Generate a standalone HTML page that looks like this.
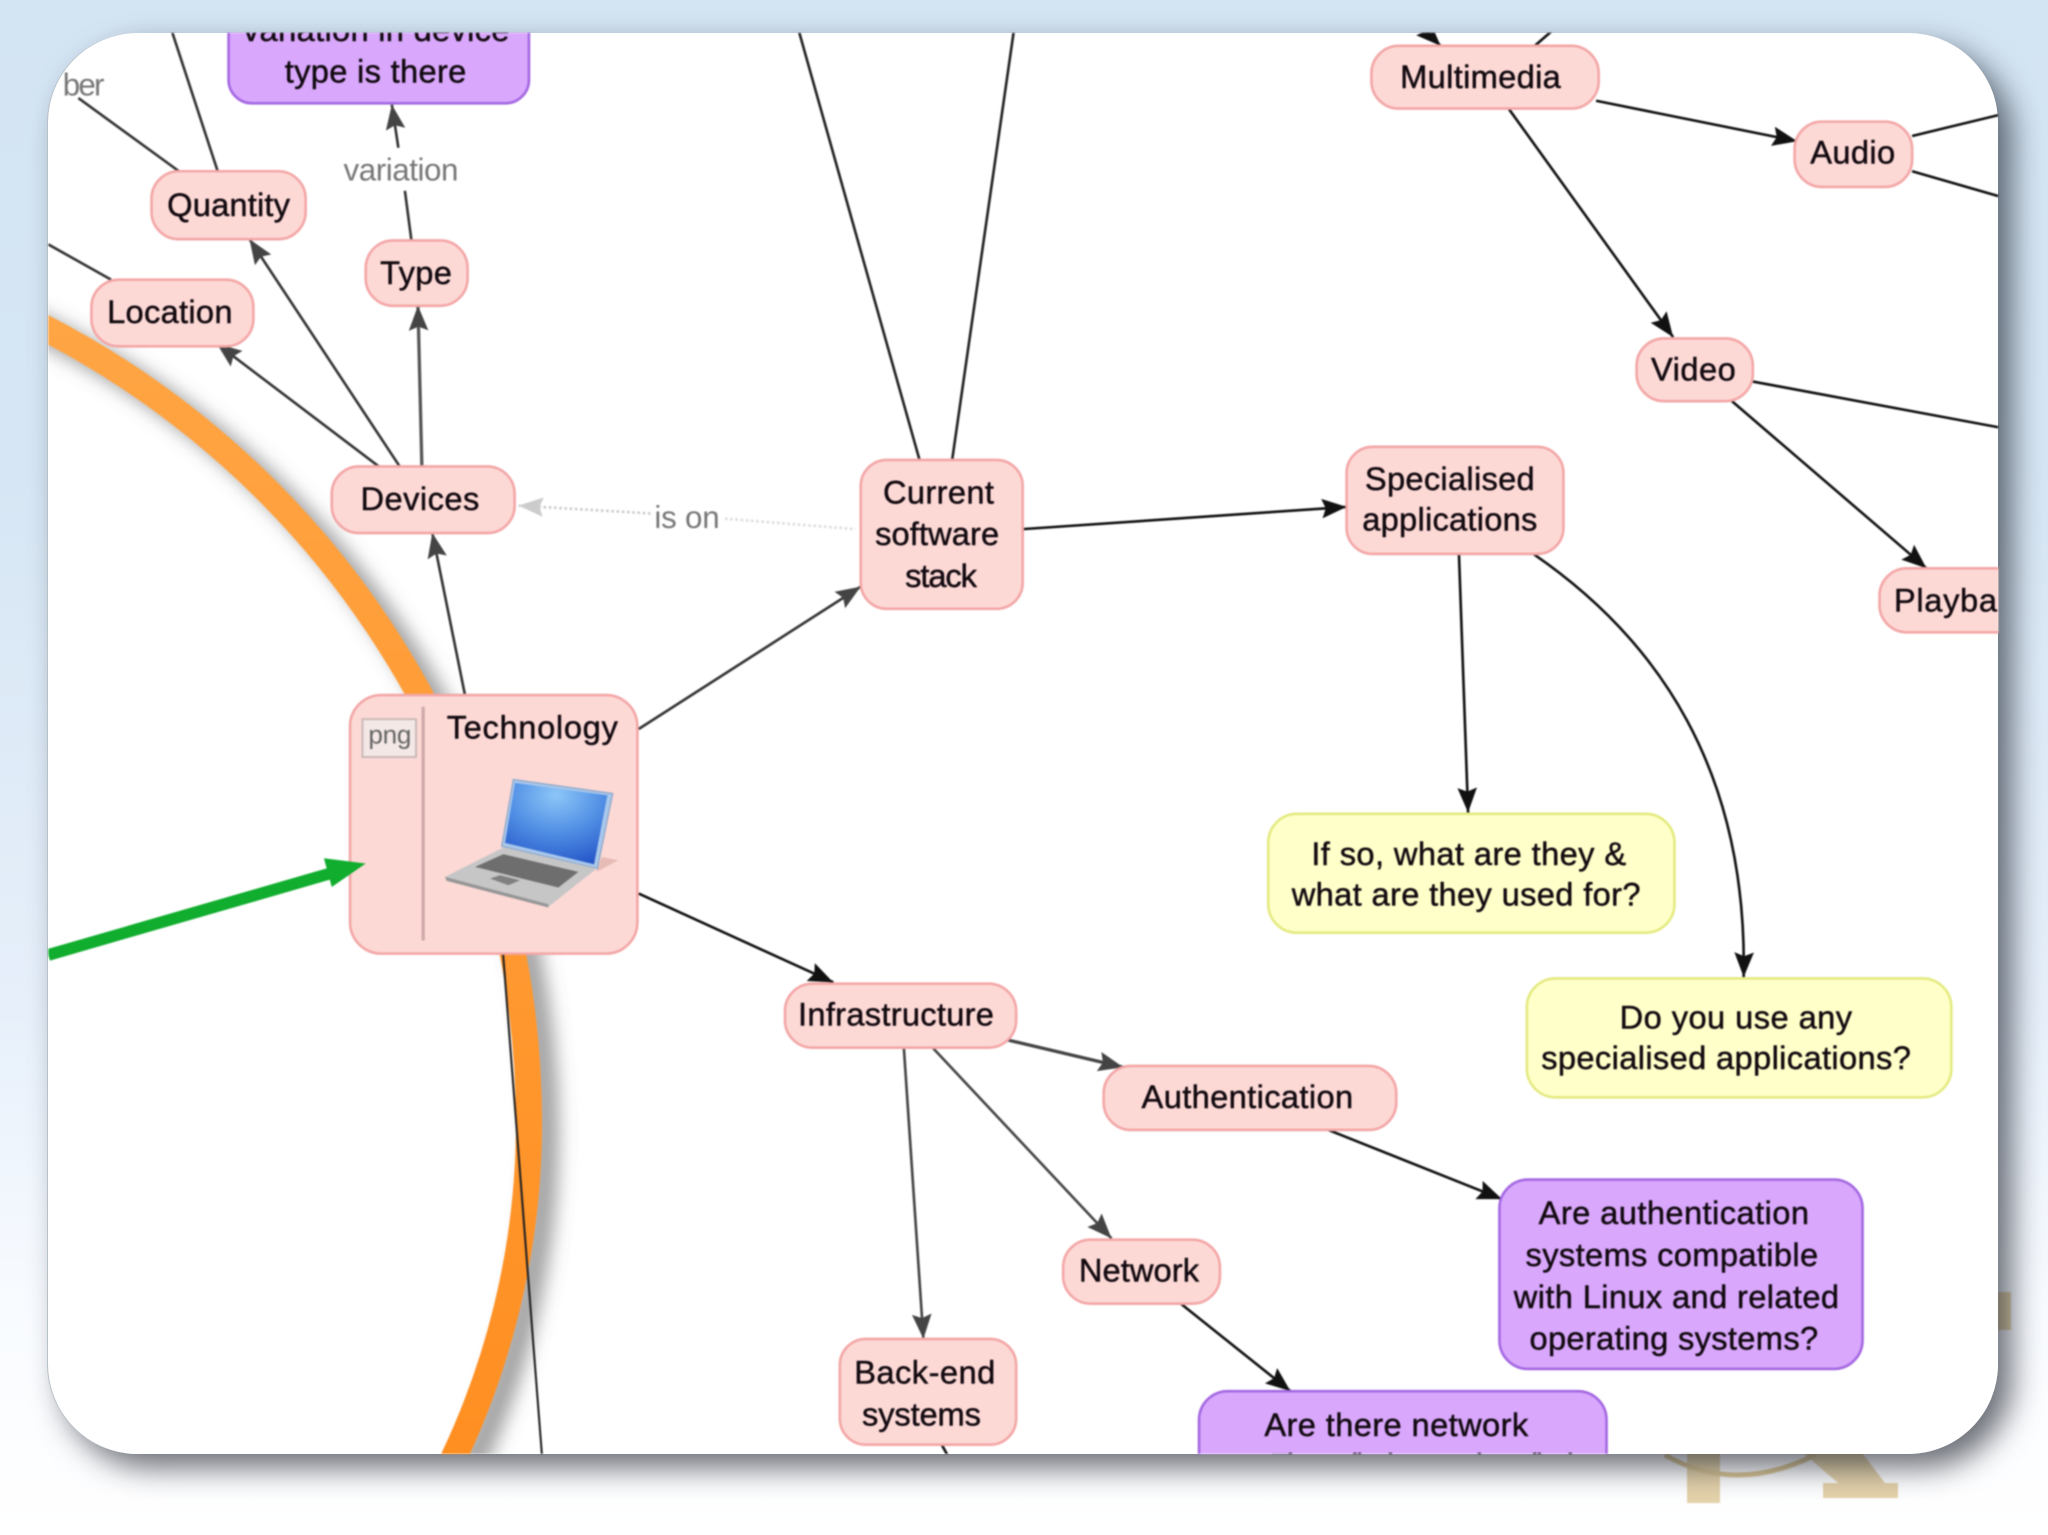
<!DOCTYPE html>
<html><head><meta charset="utf-8"><style>
html,body{margin:0;padding:0;width:2048px;height:1535px;overflow:hidden}
body{position:relative;background:linear-gradient(180deg,#d3e4f3 0%,#d6e6f4 30%,#e6effa 65%,#f8fbff 85%,#ffffff 100%)}
div,svg.l{position:absolute}
#sh{left:48px;top:33px;width:1950px;height:1421px;border-radius:90px;box-shadow:14px 14px 30px rgba(20,25,35,.62)}
#p{left:48px;top:33px;width:1950px;height:1421px;border-radius:90px;background:#fff;box-shadow:-1px 0 0 #b8c0c8}
text{font-family:"Liberation Sans",Arial,sans-serif;font-size:25px;fill:#120a10}
.t text{stroke:#120a10;stroke-width:.35px}
.t text.g{fill:#777;font-size:24px;stroke:none}
</style></head><body>
<svg class="l" style="left:0;top:0;filter:blur(.8px)" width="2048" height="1535" viewBox="0 0 2048 1535">
<g fill="#e4d2aa">
<rect x="1687" y="1450" width="33" height="53"/>
<polygon points="1800,1450 1860,1450 1885,1483 1898,1483 1898,1498 1823,1498 1823,1483 1838,1483"/>
<rect x="1998" y="1292" width="13" height="38"/>
</g>
<path d="M1665,1455 Q1735,1495 1815,1455" fill="none" stroke="#dcc898" stroke-width="5"/>
</svg>
<div id="sh"></div>
<div id="p"></div>
<svg class="l" style="left:0;top:0;filter:blur(.7px)" width="2048" height="1535" viewBox="0 0 1568 1175">
<defs>
<clipPath id="c"><rect x="37" y="25" width="1493" height="1088" rx="69"/></clipPath>
<marker id="d" markerUnits="userSpaceOnUse" markerWidth="20" markerHeight="16" refX="19" refY="8" orient="auto"><path d="M0,0.5L19,8L0,15.500L3,8Z" fill="#111"/></marker>
<marker id="m" markerUnits="userSpaceOnUse" markerWidth="20" markerHeight="16" refX="19" refY="8" orient="auto"><path d="M0,0.5L19,8L0,15.500L3,8Z" fill="#444"/></marker>
<marker id="l" markerUnits="userSpaceOnUse" markerWidth="20" markerHeight="16" refX="19" refY="8" orient="auto"><path d="M0,0.5L19,8L0,15.500L3,8Z" fill="#ccc"/></marker>
<filter id="b" x="-20%" y="-20%" width="140%" height="140%"><feGaussianBlur stdDeviation="7"/></filter>
<linearGradient id="o" x1="0" y1="0" x2="0" y2="1"><stop offset="0" stop-color="#ffa544"/><stop offset="1" stop-color="#ff8e20"/></linearGradient>
<radialGradient id="s" cx=".5" cy=".15" r=".95"><stop offset="0" stop-color="#8cc6f7"/><stop offset=".5" stop-color="#4f8de4"/><stop offset="1" stop-color="#1f4fc4"/></radialGradient>
</defs>
<g clip-path="url(#c)">
<path d="M-20,226 A685,685 0 0 1 405,860 A600,600 0 0 1 338,1135" transform="translate(12,8)" fill="none" stroke="#666" stroke-opacity=".6" stroke-width="22" filter="url(#b)"/>
<path d="M-20,226 A685,685 0 0 1 405,860 A600,600 0 0 1 338,1135" fill="none" stroke="url(#o)" stroke-width="20"/>

<g fill="none" stroke="#333" stroke-width="2">
<line x1="132" y1="25" x2="167" y2="132"/>
<line x1="60" y1="75" x2="137" y2="131"/>
<line x1="37" y1="187" x2="85" y2="214"/>
<line x1="290" y1="357" x2="166" y2="263" marker-end="url(#m)"/>
<line x1="306" y1="357" x2="191" y2="183" marker-end="url(#m)"/>
<line x1="323" y1="357" x2="320" y2="234" stroke="#555" stroke-width="2.5" marker-end="url(#m)"/>
<line x1="315" y1="184" x2="310" y2="146"/>
<line x1="305" y1="113" x2="300" y2="80" marker-end="url(#m)"/>
<line x1="356" y1="532" x2="331" y2="408" marker-end="url(#m)"/>
<line x1="489" y1="558" x2="659" y2="449" marker-end="url(#m)"/>
<line x1="489" y1="684" x2="638" y2="752" stroke="#111" marker-end="url(#d)"/>
<line x1="783" y1="405" x2="1031" y2="388" stroke="#111" marker-end="url(#d)"/>
<line x1="704" y1="352" x2="612" y2="25" stroke="#222"/>
<line x1="729" y1="352" x2="776" y2="25" stroke="#222"/>
<line x1="555" y1="397" x2="655" y2="405" stroke="#ddd" stroke-dasharray="2 2"/>
<line x1="498" y1="393" x2="397" y2="387" stroke="#ccc" stroke-dasharray="2 2" marker-end="url(#l)"/>
<line x1="1117" y1="424" x2="1124" y2="622" stroke="#111" marker-end="url(#d)"/>
<path d="M1174,424 C1270,490 1338,590 1335,748" stroke="#111" marker-end="url(#d)"/>
<line x1="1088" y1="20" x2="1103" y2="35" stroke="#111" marker-end="url(#d)"/>
<line x1="1190" y1="22" x2="1175" y2="35" stroke="#111"/>
<line x1="1222" y1="77" x2="1376" y2="108" stroke="#111" marker-end="url(#d)"/>
<line x1="1155" y1="83" x2="1281" y2="258" stroke="#111" marker-end="url(#d)"/>
<line x1="1464" y1="104" x2="1530" y2="88" stroke="#111"/>
<line x1="1464" y1="131" x2="1530" y2="150" stroke="#111"/>
<line x1="1342" y1="292" x2="1530" y2="327" stroke="#111"/>
<line x1="1326" y1="307" x2="1475" y2="435" stroke="#111" marker-end="url(#d)"/>
<line x1="771" y1="796" x2="860" y2="817" stroke="#444" stroke-width="2.5" marker-end="url(#m)"/>
<line x1="714" y1="802" x2="851" y2="948" stroke="#444" marker-end="url(#m)"/>
<line x1="692" y1="802" x2="707" y2="1025" stroke="#444" marker-end="url(#m)"/>
<line x1="1017" y1="865" x2="1150" y2="918" stroke="#111" marker-end="url(#d)"/>
<line x1="904" y1="998" x2="988" y2="1065" stroke="#111" marker-end="url(#d)"/>
<line x1="721" y1="1106" x2="726" y2="1115" stroke="#111"/>
<line x1="385" y1="728" x2="415" y2="1115" stroke="#222" stroke-width="1.6"/>
</g>

<g fill="#fdd9d6" stroke="#f3a6a6" stroke-width="2">
<rect x="116" y="131" width="118" height="52" rx="21"/>
<rect x="280" y="184" width="78" height="50" rx="21"/>
<rect x="70" y="214" width="124" height="51" rx="21"/>
<rect x="254" y="357" width="140" height="51" rx="21"/>
<rect x="268" y="532" width="220" height="198" rx="24"/>
<rect x="659" y="352" width="124" height="114" rx="20"/>
<rect x="1031" y="342" width="166" height="82" rx="20"/>
<rect x="1050" y="35" width="174" height="48" rx="21"/>
<rect x="1374" y="93" width="90" height="50" rx="21"/>
<rect x="1253" y="259" width="89" height="48" rx="21"/>
<rect x="1439" y="435" width="110" height="49" rx="21"/>
<rect x="601" y="753" width="177" height="49" rx="21"/>
<rect x="845" y="816" width="224" height="49" rx="21"/>
<rect x="814" y="949" width="120" height="49" rx="21"/>
<rect x="643" y="1025" width="135" height="81" rx="20"/>
</g>
<g fill="#d9a7fc" stroke="#a468e2" stroke-width="2">
<rect x="175" y="-20" width="230" height="99" rx="18"/>
<rect x="1148" y="903" width="278" height="145" rx="22"/>
<rect x="918" y="1065" width="312" height="100" rx="22"/>
</g>
<g fill="#ffffc9" stroke="#e4ea80" stroke-width="2">
<rect x="971" y="623" width="311" height="91" rx="22"/>
<rect x="1169" y="749" width="325" height="91" rx="22"/>
</g>

<line x1="324" y1="541" x2="324" y2="720" stroke="#cfa9a9" stroke-width="2.5"/>
<rect x="277.500" y="550.500" width="41" height="29" fill="#f3e8e6" stroke="#c9b9b6" stroke-width="1.5"/>
<text x="282" y="569" textLength="33" style="font-size:20px;fill:#666">png</text>

<line x1="37" y1="731" x2="255" y2="668" stroke="#10ad2e" stroke-width="9"/>
<polygon points="248,657 280,661 254,679" fill="#10ad2e"/>

<g transform="scale(.7657) translate(300,660) scale(.3333)">
<polygon points="890,635 955,600 905,590" fill="#e8bcb6"/>
<polygon points="640,358 938,400 892,625 605,558" fill="#a9c8ec" stroke="#8fa8c8" stroke-width="4"/>
<polygon points="645,368 922,405 882,612 615,548" fill="url(#s)"/>
<polygon points="435,650 610,562 890,625 745,740" fill="#c6c6c6"/>
<polygon points="435,650 745,732 745,742 440,662" fill="#969696"/>
<polygon points="525,620 610,582 835,635 775,682" fill="#6e6e6e"/>
<polygon points="570,655 600,645 660,660 625,675" fill="#808080"/>
</g>

<g class="t" transform="translate(0,-.8)">
<text x="48" y="74" class="g" textLength="32">ber</text>
<text x="186" y="32" textLength="204">variation in device</text>
<text x="218" y="64" textLength="139">type is there</text>
<text x="128" y="166" textLength="94">Quantity</text>
<text x="291" y="218" textLength="55">Type</text>
<text x="82" y="248" textLength="96">Location</text>
<text x="276" y="391" textLength="91">Devices</text>
<text x="263" y="139" textLength="88" class="g">variation</text>
<text x="501" y="405" textLength="50" class="g">is on</text>
<text x="342" y="566" textLength="131">Technology</text>
<text x="676" y="386" textLength="85">Current</text>
<text x="670" y="418" textLength="95">software</text>
<text x="693" y="450" textLength="55">stack</text>
<text x="1045" y="376" textLength="130">Specialised</text>
<text x="1043" y="407" textLength="134">applications</text>
<text x="1072" y="68" textLength="123">Multimedia</text>
<text x="1386" y="126" textLength="65">Audio</text>
<text x="1264" y="292" textLength="65">Video</text>
<text x="1450" y="469" textLength="105">Playback</text>
<text x="1004" y="663" textLength="241">If so, what are they &amp;</text>
<text x="989" y="694" textLength="267">what are they used for?</text>
<text x="1240" y="788" textLength="178">Do you use any</text>
<text x="1180" y="819" textLength="283">specialised applications?</text>
<text x="611" y="786" textLength="150">Infrastructure</text>
<text x="874" y="849" textLength="162">Authentication</text>
<text x="1178" y="938" textLength="207">Are authentication</text>
<text x="1168" y="970" textLength="224">systems compatible</text>
<text x="1159" y="1002" textLength="249">with Linux and related</text>
<text x="1171" y="1034" textLength="221">operating systems?</text>
<text x="826" y="982" textLength="92">Network</text>
<text x="654" y="1060" textLength="108">Back-end</text>
<text x="660" y="1092" textLength="91">systems</text>
<text x="968" y="1100" textLength="202">Are there network</text>
<text x="972" y="1131" textLength="233">Firewalls that are installed</text>
</g>
</g>
</svg>
</body></html>
